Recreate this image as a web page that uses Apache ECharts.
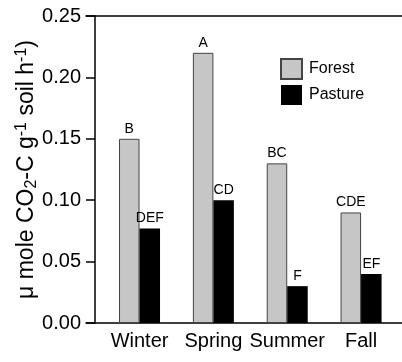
<!DOCTYPE html>
<html lang="en">
  <head>
    <meta charset="utf-8" />
    <title>Soil respiration</title>
    <script src="https://cdn.jsdelivr.net/npm/echarts@6/dist/echarts.min.js"></script>
    <style>
      html, body { margin: 0; padding: 0; background: #fff; }
      #main { width: 402px; height: 362px; }
    </style>
  </head>
  <body>
    <div id="main"></div>
    <script>
    // data
    const seasons = ['Winter', 'Spring', 'Summer', 'Fall'];
    const forest = [0.15, 0.22, 0.13, 0.09];
    const pasture = [0.077, 0.10, 0.03, 0.04];
    const forestLetters = ['B', 'A', 'BC', 'CDE'];
    const pastureLetters = ['DEF', 'CD', 'F', 'EF'];
    const yTicks = [0, 0.05, 0.10, 0.15, 0.20, 0.25];

    const font = 'Liberation Sans, Arial, sans-serif';

    let main = echarts.init(document.getElementById('main'));
    let option = {
        animation: false,
        textStyle: { fontFamily: font },
        grid: [
            { left: 102.6, right: 4, top: 16, bottom: 39, outerBoundsMode: 'none' },
            { left: 86, right: 0, top: 16, bottom: 39, outerBoundsMode: 'none' }
        ],
        legend: {
            orient: 'vertical',
            left: 275,
            top: 53,
            icon: 'rect',
            itemWidth: 21,
            itemHeight: 20,
            itemGap: 5,
            textStyle: { fontSize: 16, color: '#000', fontFamily: font, padding: [0, 0, 0, 2] },
            data: ['Forest', 'Pasture']
        },
        xAxis: [
            {
                type: 'category',
                gridIndex: 0,
                data: seasons,
                axisLine: { show: false },
                axisTick: { show: false },
                axisLabel: { interval: 0, fontSize: 20, color: '#000', margin: 8, fontFamily: font }
            },
            // plain frame lines at 0 and 0.25
            { type: 'value', gridIndex: 1, position: 'bottom', show: true,
              axisLine: { show: true, lineStyle: { color: '#000', width: 1.5 } },
              axisTick: { show: false }, axisLabel: { show: false }, splitLine: { show: false } },
            { type: 'value', gridIndex: 1, position: 'top', show: true,
              axisLine: { show: true, lineStyle: { color: '#000', width: 1.5 } },
              axisTick: { show: false }, axisLabel: { show: false }, splitLine: { show: false } }
        ],
        yAxis: [
            {
                type: 'value',
                gridIndex: 0,
                min: yTicks[0],
                max: yTicks[yTicks.length - 1],
                interval: 0.05,
                offset: 7.6,
                axisLine: { show: true, lineStyle: { color: '#000', width: 1.5 } },
                axisTick: { show: true, inside: false, length: 9, lineStyle: { color: '#000', width: 1.5 } },
                splitLine: { show: false },
                axisLabel: {
                    fontSize: 20, color: '#000', margin: 14, fontFamily: font,
                    formatter: v => v.toFixed(2)
                },
                name: '{t|\u03bc mole CO}{sub|2}{t|-C g}{sup|-1}{t| soil h}{sup|-1}{t|)}',
                nameLocation: 'middle',
                nameRotate: 90,
                nameGap: 55,
                nameMoveOverlap: false,
                nameTextStyle: {
                    fontSize: 23,
                    rich: {
                        t: { fontSize: 23, color: '#000', fontFamily: font, lineHeight: 26 },
                        sub: { fontSize: 16, color: '#000', fontFamily: font, verticalAlign: 'bottom', lineHeight: 26 },
                        sup: { fontSize: 16, color: '#000', fontFamily: font, verticalAlign: 'top', lineHeight: 26 }
                    }
                }
            },
            { type: 'value', gridIndex: 1, show: false }
        ],
        series: [
            {
                name: 'Forest',
                type: 'bar',
                xAxisIndex: 0,
                yAxisIndex: 0,
                barWidth: 20.5,
                barGap: '0%',
                data: forest,
                itemStyle: { color: '#c6c6c6', borderColor: '#444', borderWidth: 1 },
                label: {
                    show: true, position: 'top', distance: 3, color: '#000', fontSize: 14,
                    formatter: p => forestLetters[p.dataIndex]
                }
            },
            {
                name: 'Pasture',
                type: 'bar',
                xAxisIndex: 0,
                yAxisIndex: 0,
                barWidth: 20.5,
                data: pasture,
                itemStyle: { color: '#000' },
                label: {
                    show: true, position: 'top', distance: 3, color: '#000', fontSize: 14,
                    formatter: p => pastureLetters[p.dataIndex]
                }
            }
        ]
    };
    main.setOption(option);
    </script>
  </body>
</html>
